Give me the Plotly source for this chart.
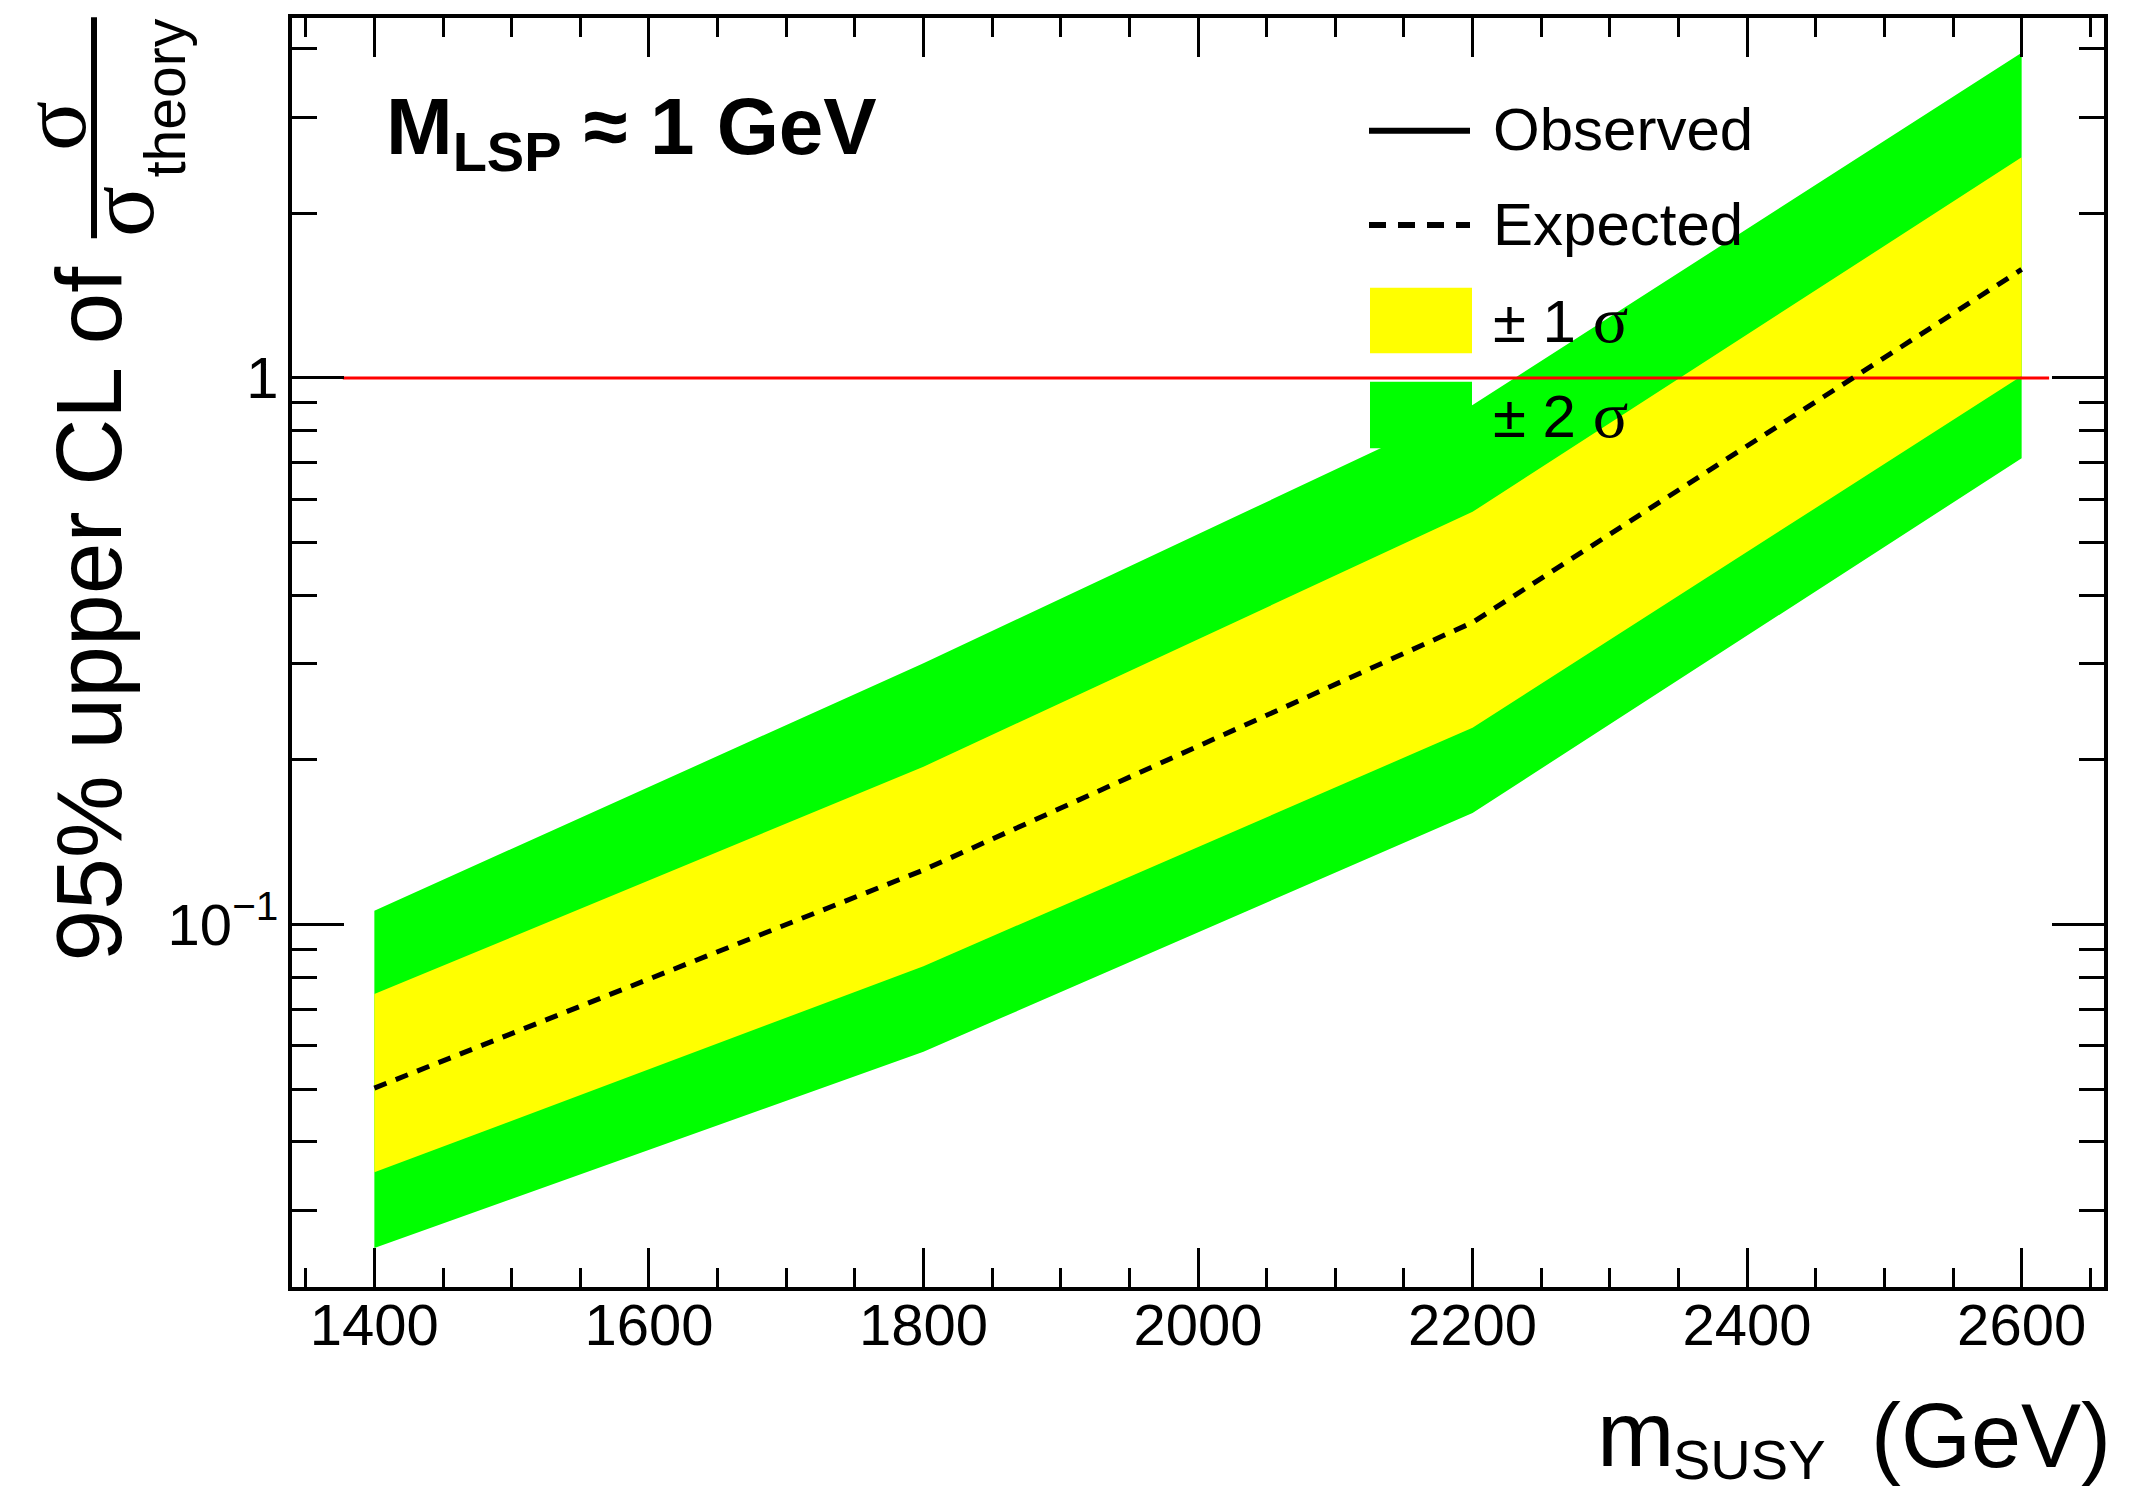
import plotly.graph_objects as go

# ---------------- data ----------------
mass = [1400, 1800, 2200, 2600]
expected = [0.0502, 0.1258, 0.357, 1.58]
band1_up = [0.0746, 0.1944, 0.569, 2.534]
band1_down = [0.0352, 0.0839, 0.229, 1.0085]
band2_up = [0.1060, 0.3006, 0.892, 3.937]
band2_down = [0.0256, 0.0585, 0.160, 0.713]
unity_x = [1377, 2620]
unity_y = [1, 1]

x_major = [1400, 1600, 1800, 2000, 2200, 2400, 2600]
x_minor = [1350, 1450, 1500, 1550, 1650, 1700, 1750, 1850, 1900, 1950,
           2050, 2100, 2150, 2250, 2300, 2350, 2450, 2500, 2550, 2650]
y_major = [0.1, 1]
y_major_text = ["10<sup>\u22121</sup>", "1"]
y_minor = [0.03, 0.04, 0.05, 0.06, 0.07, 0.08, 0.09,
           0.2, 0.3, 0.4, 0.5, 0.6, 0.7, 0.8, 0.9, 2, 3, 4]
x_range = [1340, 2660]
y_range_log = [-1.6633, 0.6587]

legend_labels = ["Observed", "Expected", "\u00b1 1 ", "\u00b1 2 "]

# ---------------- geometry helpers (pixels -> paper) ----------------
W, H = 2152, 1492
L, R, T, B = 292, 2104, 18, 1287


def px(xpix):
    return (xpix - L) / (R - L)


def py(ypix):
    return (B - ypix) / (B - T)


SANS = "Liberation Sans, Arial, Helvetica, sans-serif"
SERIF = "Liberation Serif, Times New Roman, serif"

fig = go.Figure()

# 2 sigma band
fig.add_trace(go.Scatter(
    x=mass + mass[::-1], y=band2_up + band2_down[::-1],
    fill="toself", fillcolor="#00ff00", mode="lines",
    line=dict(width=0, color="#00ff00"), hoverinfo="skip", showlegend=False))
# 1 sigma band
fig.add_trace(go.Scatter(
    x=mass + mass[::-1], y=band1_up + band1_down[::-1],
    fill="toself", fillcolor="#ffff00", mode="lines",
    line=dict(width=0, color="#ffff00"), hoverinfo="skip", showlegend=False))
# unity line
fig.add_trace(go.Scatter(
    x=unity_x, y=unity_y, mode="lines",
    line=dict(color="#ff0000", width=3), hoverinfo="skip", showlegend=False))
# expected
fig.add_trace(go.Scatter(
    x=mass, y=expected, mode="lines",
    line=dict(color="black", width=5, dash="13px,10px"), showlegend=False))

axis_common = dict(
    showline=True, linewidth=4, linecolor="black", mirror="ticks",
    ticks="inside", tickcolor="black", tickwidth=3,
    showgrid=False, zeroline=False,
    tickfont=dict(family=SANS, size=58, color="black"),
)

fig.update_xaxes(
    range=x_range, tickmode="array", tickvals=x_major,
    ticktext=[str(v) for v in x_major], ticklen=39,
    ticklabelstandoff=-16,
    minor=dict(tickmode="array", tickvals=x_minor, ticks="inside",
               ticklen=19, tickwidth=3, tickcolor="black", showgrid=False),
    **axis_common)
fig.update_yaxes(
    type="log", range=y_range_log, tickmode="array", tickvals=y_major,
    ticktext=y_major_text, ticklen=52, ticklabelstandoff=-2,
    minor=dict(tickmode="array", tickvals=y_minor, ticks="inside",
               ticklen=25, tickwidth=3, tickcolor="black", showgrid=False),
    **axis_common)

annotations = []


def ann(text, xpix, ypix, size, family=SANS, xanchor="center", yanchor="middle",
        angle=0):
    annotations.append(dict(
        text=text, x=px(xpix), y=py(ypix), xref="paper", yref="paper",
        showarrow=False, xanchor=xanchor, yanchor=yanchor, textangle=angle,
        font=dict(family=family, size=size, color="black"), borderpad=0))


# x-axis title
ann("(GeV)", 2112, 1466.7 - 0.3465 * 90, 90, xanchor="right")
ann("m", 1596, 1466.7 - 0.3465 * 93, 93, xanchor="left")
ann("SUSY", 1672, 1479 - 0.3465 * 56, 56, xanchor="left")

# y-axis title
ann("95% upper CL of", 121.7 - 0.3465 * 93, 614, 93, angle=-90)
ann("\u03c3", 53, 126, 93, family=SERIF, angle=-90)
ann("\u03c3", 121, 212, 95, family=SERIF, angle=-90)
ann("theory", 185 - 0.3465 * 57, 98, 57, angle=-90)

# M_LSP label
ann("<b>M<sub>LSP</sub> \u2248 1 GeV</b>", 385, 160.7 - 0.3465 * 80, 80,
    xanchor="left")

# legend texts
leg_y = [130.7, 225, 320.5, 415]
ann(legend_labels[0], 1492, leg_y[0] - 1, 60, xanchor="left")
ann(legend_labels[1], 1492, leg_y[1] - 1, 60, xanchor="left")
ann(legend_labels[2] + "<span style='font-family:Liberation Serif;font-size:66px'>\u03c3</span>",
    1492, leg_y[2] - 1, 60, xanchor="left")
ann(legend_labels[3] + "<span style='font-family:Liberation Serif;font-size:66px'>\u03c3</span>",
    1492, leg_y[3] - 1, 60, xanchor="left")

shapes = [
    # fraction bar of y title
    dict(type="line", xref="paper", yref="paper", x0=px(94), x1=px(94),
         y0=py(17.3), y1=py(238.3), line=dict(color="black", width=6)),
    # legend: observed
    dict(type="line", xref="paper", yref="paper", x0=px(1369), x1=px(1470),
         y0=py(leg_y[0]), y1=py(leg_y[0]), line=dict(color="black", width=6)),
    # legend: expected
    dict(type="line", xref="paper", yref="paper", x0=px(1369), x1=px(1470),
         y0=py(leg_y[1]), y1=py(leg_y[1]),
         line=dict(color="black", width=6, dash="17px,12px")),
    # legend: 1 sigma box
    dict(type="rect", xref="paper", yref="paper", x0=px(1370), x1=px(1472),
         y0=py(287.7), y1=py(353.3), fillcolor="#ffff00", line=dict(width=0)),
    # legend: 2 sigma box
    dict(type="rect", xref="paper", yref="paper", x0=px(1370), x1=px(1472),
         y0=py(381.7), y1=py(448.3), fillcolor="#00ff00", line=dict(width=0)),
]

fig.update_layout(
    width=W, height=H,
    margin=dict(l=L, r=W - R, t=T, b=H - B, pad=0),
    paper_bgcolor="white", plot_bgcolor="white",
    showlegend=False,
    annotations=annotations, shapes=shapes,
    font=dict(family=SANS, color="black"),
)

fig.write_html("out.html", config={"displayModeBar": False},
               post_script="document.body.style.margin='0';")
